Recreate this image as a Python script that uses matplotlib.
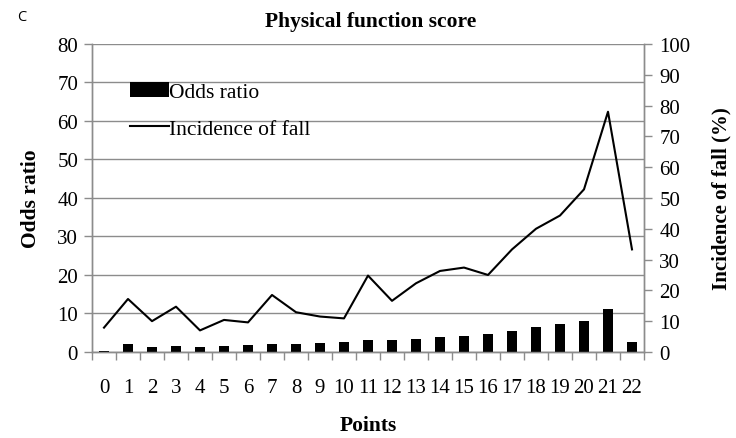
import numpy as np
import matplotlib.pyplot as plt
from matplotlib.ticker import MultipleLocator, FixedLocator

points = list(range(23))
odds_ratio = [0.35, 2.1, 1.2, 1.5, 1.3, 1.65, 1.8, 2.1, 2.0, 2.25, 2.6, 3.0, 3.0,
              3.4, 3.9, 4.15, 4.7, 5.45, 6.5, 7.25, 8.1, 11.1, 2.6]
incidence = [7.9, 17.2, 10.0, 14.7, 7.0, 10.4, 9.6, 18.5, 12.9, 11.5, 10.9, 24.8, 16.6,
             22.3, 26.3, 27.4, 25.0, 33.3, 40.0, 44.3, 52.8, 78.0, 33.3]

serif = 'Liberation Serif'
grey = '#8c8c8c'

fig = plt.figure(figsize=(7.36, 4.39), dpi=100)
ax = fig.add_axes([0.125, 0.196, 0.75, 0.7015])
ax2 = ax.twinx()

bars = ax.bar(points, odds_ratio, width=0.42, color='black', label='Odds ratio', zorder=3)
line, = ax2.plot(points, incidence, color='black', lw=1.5, label='Incidence of fall')

ax.set_xlim(-0.5, 22.5)
ax.set_ylim(0, 80)
ax2.set_ylim(0, 100)
ax.yaxis.set_major_locator(MultipleLocator(10))
ax2.yaxis.set_major_locator(MultipleLocator(10))
ax.set_xticks(points)
ax.set_xticklabels([str(p) for p in points])
# ticks sit between the categories, labels at the centres
ax.xaxis.set_minor_locator(FixedLocator(np.arange(-0.5, 23, 1)))
ax.tick_params(axis='x', which='major', length=0, pad=19)
ax.tick_params(axis='x', which='minor', length=6, color=grey, width=1)
ax.tick_params(axis='y', length=6, color=grey, width=1, pad=4)
ax2.tick_params(axis='y', length=6, color=grey, width=1, pad=5)
for a in (ax, ax2):
    for lbl in a.get_xticklabels() + a.get_yticklabels():
        lbl.set_fontfamily(serif)
        lbl.set_fontsize(15)

ax.grid(axis='y', color=grey, lw=1)
ax.set_axisbelow(True)
for a in (ax, ax2):
    a.spines['top'].set_visible(False)
    for s in ('left', 'right', 'bottom'):
        a.spines[s].set_color(grey)
        a.spines[s].set_linewidth(1)

ax.set_xlabel('Points', fontfamily=serif, fontsize=15.5, fontweight='bold', labelpad=13)
ax.set_ylabel('Odds ratio', fontfamily=serif, fontsize=15.5, fontweight='bold', labelpad=12)
ax2.set_ylabel('Incidence of fall (%)', fontfamily=serif, fontsize=15, fontweight='bold', labelpad=15)

fig.text(0.504, 0.95, 'Physical function score', ha='center', va='center',
         fontfamily=serif, fontsize=15.5, fontweight='bold')
fig.text(0.029, 0.961, 'C', ha='center', va='center', fontfamily='Open Sans', fontsize=10.5)

ax2.legend([bars, line], ['Odds ratio', 'Incidence of fall'], frameon=False,
           loc='upper left', bbox_to_anchor=(0.053, 0.905),
           prop={'family': serif, 'size': 15.5}, handlelength=1.8,
           handletextpad=0.0, labelspacing=0.78, borderaxespad=0)

fig.savefig('out.png', dpi=100)
